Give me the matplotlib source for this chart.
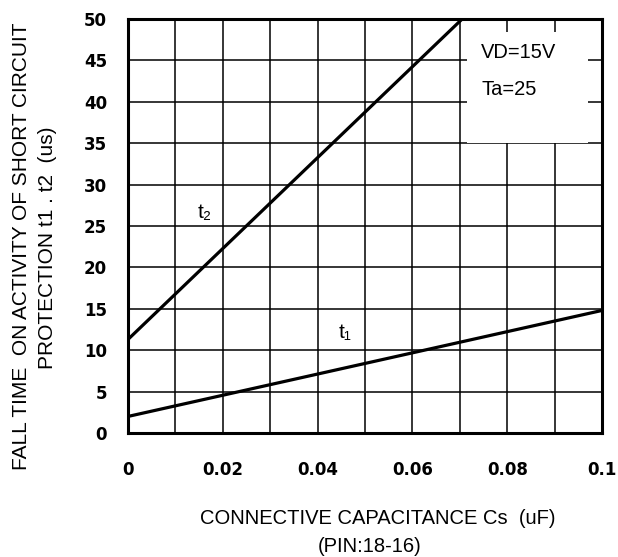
import matplotlib.pyplot as plt
from matplotlib.patches import Rectangle

# values
cs_t1 = [0.0, 0.1]
t1 = [2.0, 14.8]
cs_t2 = [0.0, 0.0705]
t2 = [11.3, 50.0]

x_ticks = [0, 0.02, 0.04, 0.06, 0.08, 0.1]
x_tick_labels = ['0', '0.02', '0.04', '0.06', '0.08', '0.1']
y_ticks = [0, 5, 10, 15, 20, 25, 30, 35, 40, 45, 50]

W, H = 618, 557
fig = plt.figure(figsize=(W / 100, H / 100), dpi=100)
ax = fig.add_axes([128 / W, 1 - 433 / H, 474 / W, 414 / H])

ax.set_xlim(0, 0.1)
ax.set_ylim(0, 50)

# grid every 0.01 / 5
ax.set_xticks([i / 100 for i in range(11)], minor=True)
ax.set_xticks(x_ticks)
ax.set_xticklabels(x_tick_labels)
ax.set_yticks(y_ticks)
ax.grid(True, which='both', color='black', linewidth=1.1)
ax.set_axisbelow(True)
ax.tick_params(which='both', length=0)
ax.tick_params(axis='x', pad=20)
ax.tick_params(axis='y', pad=15)
for lab in ax.get_xticklabels() + ax.get_yticklabels():
    lab.set_fontfamily('DejaVu Sans')
    lab.set_fontweight('bold')
    lab.set_fontsize(12)

for sp in ax.spines.values():
    sp.set_linewidth(2.2)
    sp.set_zorder(5)

# white box behind the condition text
ax.add_patch(Rectangle((0.0715, 35), 0.0255, 13.4, facecolor='white',
                       edgecolor='none', zorder=1))

ax.plot(cs_t1, t1, color='black', linewidth=2.3, zorder=3)
ax.plot(cs_t2, t2, color='black', linewidth=2.3, zorder=3)

sub_fam = ['Liberation Sans', 'DejaVu Sans']
ax.text(0.0162, 26.6, 't₂', fontsize=15, ha='center', va='center',
        family=sub_fam, zorder=4)
ax.text(0.0458, 12.1, 't₁', fontsize=15, ha='center', va='center',
        family=sub_fam, zorder=4)

fs = dict(family='Liberation Sans', fontsize=14.5)
fig.text(481 / W, 1 - 52 / H, 'VD=15V', ha='left', va='center', **fs)
fig.text(481 / W, 1 - 90 / H, 'Ta=25', ha='left', va='center', **fs)

fig.text(378 / W, 1 - 519 / H, 'CONNECTIVE CAPACITANCE Cs  (uF)',
         ha='center', va='center', **fs)
fig.text(370 / W, 1 - 546 / H, '(PIN:18-16)', ha='center', va='center', **fs)

fy = dict(family='Liberation Sans', fontsize=15, rotation=90,
          ha='center', va='center')
fig.text(22 / W, 1 - 246 / H, 'FALL TIME  ON ACTIVITY OF SHORT CIRCUIT', **fy)
fig.text(48 / W, 1 - 248 / H, 'PROTECTION t1 . t2  (us)', **fy)

fig.savefig('out.png', dpi=100)
